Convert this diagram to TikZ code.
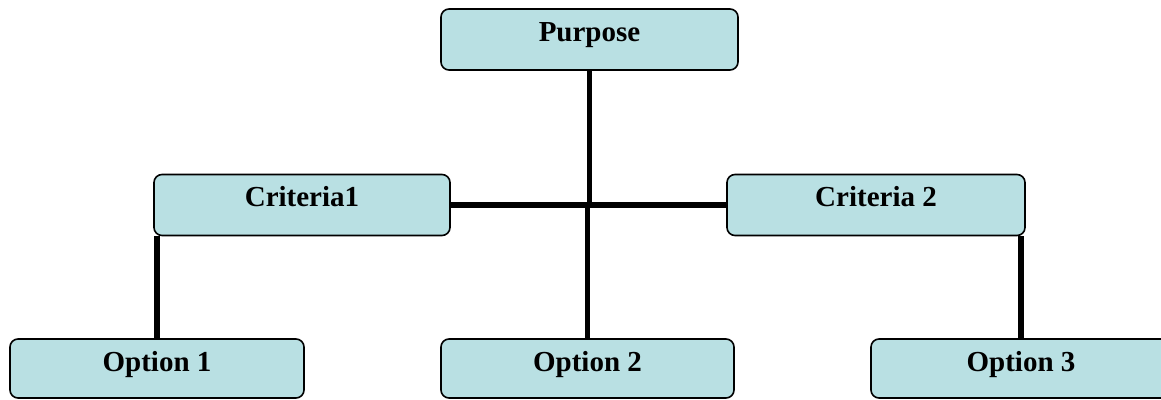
\documentclass[tikz,border=0pt]{standalone}
\usepackage{fontspec}
\setmainfont{Liberation Serif}
\usetikzlibrary{calc}

\definecolor{boxfill}{RGB}{185,224,227}

\begin{document}
\begin{tikzpicture}[x=1pt, y=-1pt,
    box/.style={draw=black, line width=1.6pt, fill=boxfill, rounded corners=8pt,
        minimum width=296pt, inner xsep=0pt, inner ysep=5pt,
        text height=27pt, text depth=24pt,
        font=\fontsize{29}{34}\selectfont\bfseries},
    link/.style={line width=5.5pt}]
    \useasboundingbox (0,0) rectangle (1161,399);
    % boxes
    \node[box, minimum width=297pt] (purpose) at (589.5,39.5) {Purpose};
    \node[box] (crit1) at (302,205) {Criteria1};
    \node[box, minimum width=298pt] (crit2) at (876,205) {Criteria 2};
    \node[box, minimum width=294pt, text depth=22pt] (opt1) at (157,368.5) {Option 1};
    \node[box, minimum width=293pt, text depth=22pt] (opt2) at (587.5,368.5) {Option 2};
    \node[box, minimum width=300pt, text depth=22pt] (opt3) at (1021,368.5) {Option 3};
    % links
    \coordinate (hub) at (purpose.south |- crit1.east);
    \draw[link] (purpose.south) -- (hub);
    \draw[link] (crit1.east) -- (crit2.west);
    \draw[link] (opt2.north |- hub) -- (opt2.north);
    \draw[link] (opt1.north |- crit1.south) -- (opt1.north);
    \draw[link] (opt3.north |- crit2.south) -- (opt3.north);
\end{tikzpicture}
\end{document}
